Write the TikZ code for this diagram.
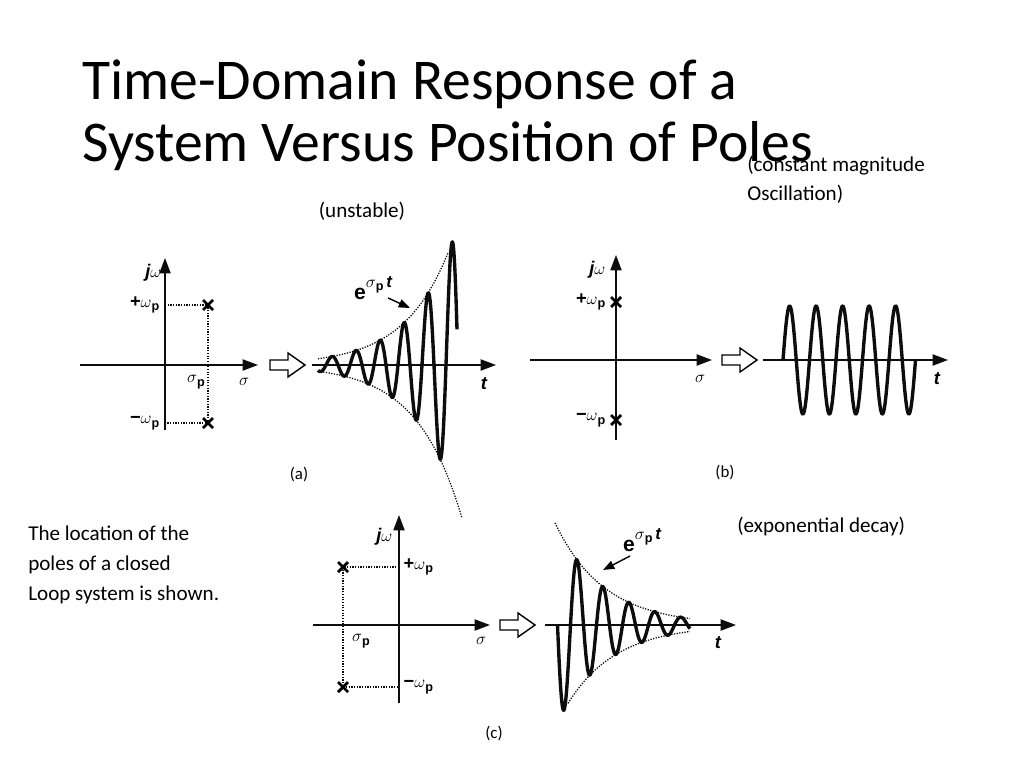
\documentclass[tikz,border=0pt]{standalone}
\usepackage{fontspec}
\setmainfont{Carlito}
\newfontfamily\lblfont{Liberation Sans}
\usetikzlibrary{calc, arrows.meta, positioning}
\definecolor{mainBlack}{gray}{0.05}
\newcommand{\omp}{$\omega$\raisebox{-0.35ex}{\small p}}
\newcommand{\sgp}{$\sigma$\raisebox{-0.35ex}{\small p}}
\tikzset{
  axis/.style={line width=1.1pt, mainBlack, -{Triangle[length=11pt,width=8pt]}},
  guide/.style={densely dotted, line width=0.9pt, mainBlack},
  wave/.style={line width=2.4pt, mainBlack, line join=round},
  envelope/.style={densely dotted, line width=0.9pt, mainBlack},
  lbl/.style={font=\lblfont\bfseries\fontsize{13}{15}\selectfont, inner sep=1pt},
  note/.style={font=\fontsize{15}{18}\selectfont, align=left, inner sep=0pt},
  figcap/.style={font=\rmfamily\fontsize{12}{14}\selectfont},
}
\newcommand{\pole}[1]{\draw[line width=2pt] ($(#1)+(-5,-5)$) -- ($(#1)+(5,5)$) ($(#1)+(-5,5)$) -- ($(#1)+(5,-5)$);}
\newcommand{\hollowarrow}[1]{\draw[line width=1pt] ($(#1)+(0,-5)$) -- ++(18,0) -- ++(0,-7) -- ++(17,12) -- ++(-17,12) -- ++(0,-7) -- ++(-18,0) -- cycle;}
\begin{document}
\begin{tikzpicture}[x=0.025cm, y=-0.025cm]
  \useasboundingbox (0,0) rectangle (1024,768);
  % title and notes
  \node[anchor=base west, inner sep=0, font=\fontsize{41}{48}\selectfont, align=left] (title) at (82,100) {Time-Domain Response of a};
  \node[anchor=base west, inner sep=0, font=\fontsize{41}{48}\selectfont] (title2) at (82,161) {System Versus Position of Poles};
  \node[note, anchor=base] (unst) at (362,217) {(unstable)};
  \node[note, anchor=base west] (const) at (747,200) {(constant magnitude\\[2pt]Oscillation)};
  \node[note, anchor=base west] (decay) at (737,532) {(exponential decay)};
  \node[note, anchor=base west] (loc) at (28,600) {The location of the\\[3pt]poles of a closed\\[3pt]Loop system is shown.};

  % (a) unstable
  \coordinate (aW) at (80,365);  \coordinate (aE) at (258,365);
  \coordinate (aS) at (165,430); \coordinate (aN) at (165,258);
  \coordinate (aP) at (208,305); \coordinate (aM) at (208,423);
  \draw[axis] (aW) -- (aE);
  \draw[axis] (aS) -- (aN);
  \draw[guide] (aP -| aN) -- (aP) -- (aM) -- (aM -| aN);
  \pole{aP} \pole{aM}
  \node[lbl, anchor=east] at (163,273) {\itshape j\upshape$\omega$};
  \node[lbl, anchor=east] at (161,305) {+\omp};
  \node[lbl, anchor=east] at (161,423) {−\omp};
  \node[lbl] at (196,382) {\sgp};
  \node[lbl] at (244,382) {$\sigma$};
  \hollowarrow{270,365}
  \coordinate (atW) at (312,365); \coordinate (atE) at (496,365);
  \draw[axis] (atW) -- (atE);
  \node[lbl] at (484,384) {\itshape t};
  \draw[envelope] plot[domain=318:448, samples=60] (\x, {365-72*exp((\x-428)/45)});
  \draw[envelope] plot[domain=318:462, samples=60] (\x, {365+72*exp((\x-428)/45)});
  \draw[wave] plot[domain=318:457, samples=300] (\x, {365-72*exp((\x-428)/45)*sin(15*(\x-422))});
  \node[lbl, font=\lblfont\bfseries\fontsize{15}{17}\selectfont] (aexp) at (373,288) {e\raisebox{1.1ex}{\fontsize{12}{14}\selectfont\sgp\itshape\,t}};
  \coordinate (aTip) at (410,308);
  \draw[line width=1pt, -{Triangle[length=8pt,width=6pt]}] (388,298) -- (aTip);
  \node[figcap] at (299,474) {(a)};

  % (b) constant magnitude
  \coordinate (bW) at (530,360);  \coordinate (bE) at (712,360);
  \coordinate (bS) at (616,440);  \coordinate (bN) at (616,255);
  \coordinate (bP) at (616,302);  \coordinate (bM) at (616,420);
  \draw[axis] (bW) -- (bE);
  \draw[axis] (bS) -- (bN);
  \pole{bP} \pole{bM}
  \node[lbl, anchor=east] at (607,270) {\itshape j\upshape$\omega$};
  \node[lbl, anchor=east] at (607,302) {+\omp};
  \node[lbl, anchor=east] at (607,420) {−\omp};
  \node[lbl] at (700,379) {$\sigma$};
  \hollowarrow{722,360}
  \coordinate (btW) at (763,360); \coordinate (btE) at (948,360);
  \draw[axis] (btW) -- (btE);
  \node[lbl] at (937,379) {\itshape t};
  \draw[wave] plot[domain=783:915.5, samples=300] (\x, {360-54*sin(13.585*(\x-783))});
  \node[figcap] at (725,472) {(b)};

  % (c) exponential decay
  \coordinate (cW) at (313,625);  \coordinate (cE) at (490,625);
  \coordinate (cS) at (399,703);  \coordinate (cN) at (399,515);
  \coordinate (cP) at (343,567);  \coordinate (cM) at (343,687);
  \draw[axis] (cW) -- (cE);
  \draw[axis] (cS) -- (cN);
  \draw[guide] (cP -| cN) -- (cP) -- (cM) -- (cM -| cN);
  \pole{cP} \pole{cM}
  \node[lbl, anchor=east] at (394,537) {\itshape j\upshape$\omega$};
  \node[lbl, anchor=west] at (402,567) {+\omp};
  \node[lbl, anchor=west] at (402,687) {−\omp};
  \node[lbl] at (361,641) {\sgp};
  \node[lbl] at (481,641) {$\sigma$};
  \hollowarrow{500,625}
  \coordinate (ctW) at (545,625); \coordinate (ctE) at (736,625);
  \draw[axis] (ctW) -- (ctE);
  \node[lbl] at (718,643) {\itshape t};
  \draw[envelope] plot[domain=555:690, samples=60] (\x, {625-85*exp(-(\x-564)/49)});
  \draw[envelope] plot[domain=568:690, samples=60] (\x, {625+85*exp(-(\x-564)/49)});
  \draw[wave] plot[domain=557.5:690, samples=300] (\x, {625+85*exp(-(\x-564)/49)*sin(13.846*(\x-557.5))});
  \node[lbl, font=\lblfont\bfseries\fontsize{15}{17}\selectfont] (cexp) at (642,540) {e\raisebox{1.1ex}{\fontsize{12}{14}\selectfont\sgp\itshape\,t}};
  \coordinate (cTip) at (603,570);
  \draw[line width=1pt, -{Triangle[length=8pt,width=6pt]}] (630,556) -- (cTip);
  \node[figcap] at (494,733) {(c)};
\end{tikzpicture}
\end{document}
